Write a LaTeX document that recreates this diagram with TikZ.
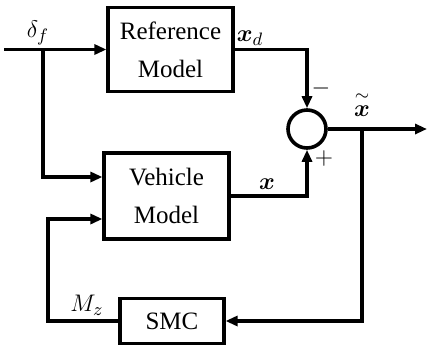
\documentclass[tikz,border=0pt]{standalone}
\usepackage{amsmath,amssymb,bm}
\usepackage{fontspec}
\setmainfont{Liberation Serif}
\usepackage{tikz}
\usetikzlibrary{arrows.meta, positioning, calc}

\begin{document}
\begin{tikzpicture}[
  x=0.5pt, y=-0.5pt,
  block/.style={rectangle, draw, line width=1.6pt, align=center,
    font=\fontsize{12.5}{19}\selectfont, inner sep=0pt},
  sumnode/.style={circle, draw, line width=1.8pt, minimum size=19pt, inner sep=0pt},
  arr/.style={-{Triangle[length=6pt, width=5pt]}, line width=1.6pt},
  lbl/.style={font=\fontsize{12.5}{14}\selectfont, inner sep=0pt},
]
  \useasboundingbox (0,0) rectangle (427,349);

  \node[block, minimum width=62.5pt, minimum height=42pt] (refmodel) at (170.5,49.5) {Reference\\Model};
  \node[block, minimum width=62.5pt, minimum height=43pt] (vehmodel) at (166.5,196) {Vehicle\\Model};
  \node[sumnode] (sum) at (307,129) {};
  \node[block, minimum width=52pt, minimum height=22.5pt] (smc) at (172,321) {SMC};

  \coordinate (in) at (4,49.5);
  \coordinate (split) at (43,49.5);
  \coordinate (vin1) at (43,177);
  \coordinate (vin2) at (48,219);
  \coordinate (out) at (427,129);
  \coordinate (fb) at (362,129);

  \draw[arr] (in) -- (refmodel.west);
  \draw[arr] (split) -- (vin1) -- (vehmodel.west |- vin1);
  \draw[arr] (refmodel.east) -| (sum.north);
  \draw[arr] (vehmodel.east) -| (sum.south);
  \draw[arr] (sum.east) -- (out);
  \draw[arr] (fb) |- (smc.east);
  \draw[arr] (smc.west) -| (vin2) -- (vehmodel.west |- vin2);

  % signal labels
  \node[lbl] (df) at (38,33) {$\delta_f$};
  \node[lbl] (xd) at (250,38) {$\bm{x}_d$};
  \node[lbl] (xv) at (267,184) {$\bm{x}$};
  \node[lbl] (xt) at (362,104) {$\overset{\sim}{\bm{x}}$};
  \node[lbl] (mz) at (87,305) {$M_z$};
  \node[lbl] (minus) at (321,88) {$-$};
  \node[lbl] (plus) at (324,158) {$+$};
\end{tikzpicture}
\end{document}
